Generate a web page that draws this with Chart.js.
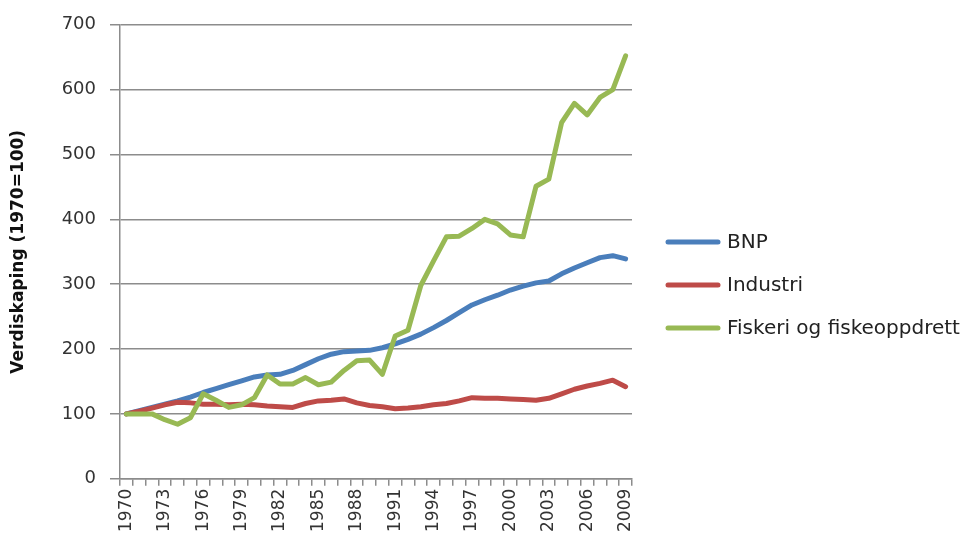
<!DOCTYPE html>
<html>
<head>
<meta charset="utf-8">
<script src="https://cdn.jsdelivr.net/npm/chart.js@4/dist/chart.umd.min.js"></script>
<style>
    html, body { margin: 0; padding: 0; background: #fff; }
    #wrap { width: 975px; height: 545px; }
</style>
</head>
<body>
<div id="wrap"><canvas id="chart"></canvas></div>
<script>
    'use strict';

    var years = [];
    for (var y = 1970; y <= 2009; y++) {
        years.push(String(y));
    }

    var bnp = [100, 105, 110, 115, 120, 126, 133, 139, 145, 151,
        157, 160, 161, 167, 176, 185, 192, 196, 197, 198,
        202, 208, 215, 223, 233, 244, 256, 268, 276, 283,
        291, 297, 302, 305, 316, 325, 333, 341, 344, 339];

    var industri = [100, 104, 109, 114, 118, 117, 115, 115, 114, 115,
        114, 112, 111, 110, 116, 120, 121, 123, 117, 113,
        111, 108, 109, 111, 114, 116, 120, 125, 124, 124,
        123, 122, 121, 124, 131, 138, 143, 147, 152, 142];

    var fiskeri = [100, 100, 100, 91, 84, 94, 131, 121, 110, 114,
        125, 160, 146, 146, 156, 145, 149, 167, 182, 183,
        161, 220, 229, 298, 336, 373, 374, 386, 400, 393,
        376, 373, 451, 462, 549, 579, 561, 588, 600, 652];

    var yTicks = [0, 100, 200, 300, 400, 500, 600, 700];

    var chartColors = ['#4A7EBB', '#BE4B48', '#98B954'];
    var gridColor = '#8C8C8C';
    var textColor = '#333333';

    var series = [
        { label: 'BNP', data: bnp, order: 3 },
        { label: 'Industri', data: industri, order: 2 },
        { label: 'Fiskeri og fiskeoppdrett', data: fiskeri, order: 1 }
    ];

    var datasets = series.map((s, i) => ({
        label: s.label,
        data: s.data,
        order: s.order,
        borderColor: chartColors[i],
        backgroundColor: chartColors[i],
        borderWidth: 5,
        borderCapStyle: 'round',
        borderJoinStyle: 'round',
        pointRadius: 0,
        pointHoverRadius: 0,
        tension: 0
    }));

    // the built-in legend is capped at a quarter of the width, so draw it here
    var sideLegend = {
        id: 'sideLegend',
        afterDraw: function (chart) {
            var ctx = chart.ctx;
            var area = chart.chartArea;
            var x0 = area.right + 36;
            var y0 = 242;
            var step = 43;
            ctx.save();
            ctx.font = '20px "DejaVu Sans"';
            ctx.textBaseline = 'middle';
            ctx.textAlign = 'left';
            chart.data.datasets.forEach((ds, i) => {
                var yy = y0 + i * step;
                ctx.strokeStyle = ds.borderColor;
                ctx.lineWidth = 5;
                ctx.lineCap = 'round';
                ctx.beginPath();
                ctx.moveTo(x0, yy);
                ctx.lineTo(x0 + 50, yy);
                ctx.stroke();
                ctx.fillStyle = '#222';
                ctx.fillText(ds.label, x0 + 59, yy + 1);
            });
            ctx.restore();
        }
    };

    var chart = new Chart(document.getElementById('chart'), {
        type: 'line',
        data: {
            labels: years,
            datasets: datasets
        },
        plugins: [sideLegend],
        options: {
            responsive: true,
            maintainAspectRatio: false,
            animation: false,
            layout: { padding: { left: 4, top: 6, right: 343, bottom: 10 } },
            plugins: {
                tooltip: { enabled: false },
                legend: { display: false }
            },
            scales: {
                x: {
                    offset: true,
                    grid: {
                        offset: true,
                        drawOnChartArea: false,
                        drawTicks: true,
                        tickLength: 7,
                        color: gridColor,
                        lineWidth: 1.5
                    },
                    border: { color: gridColor, width: 1.5 },
                    ticks: {
                        autoSkip: false,
                        maxRotation: 90,
                        minRotation: 90,
                        padding: 3,
                        color: textColor,
                        font: { family: 'DejaVu Sans', size: 17 },
                        callback: function (value, index) {
                            return index % 3 === 0 ? years[index] : '';
                        }
                    }
                },
                y: {
                    min: yTicks[0],
                    max: yTicks[yTicks.length - 1],
                    afterFit: s => { s.width = 116; },
                    grid: {
                        color: gridColor,
                        lineWidth: 1.5,
                        tickLength: 10
                    },
                    border: { color: gridColor, width: 1.5 },
                    ticks: {
                        stepSize: 100,
                        padding: 14,
                        color: textColor,
                        font: { family: 'DejaVu Sans', size: 18 }
                    },
                    title: {
                        display: true,
                        text: 'Verdiskaping (1970=100)',
                        color: '#111',
                        font: { family: 'DejaVu Sans', size: 17, weight: 'bold' },
                        padding: { top: 4, bottom: 4 }
                    }
                }
            }
        }
    });
</script>
</body>
</html>
